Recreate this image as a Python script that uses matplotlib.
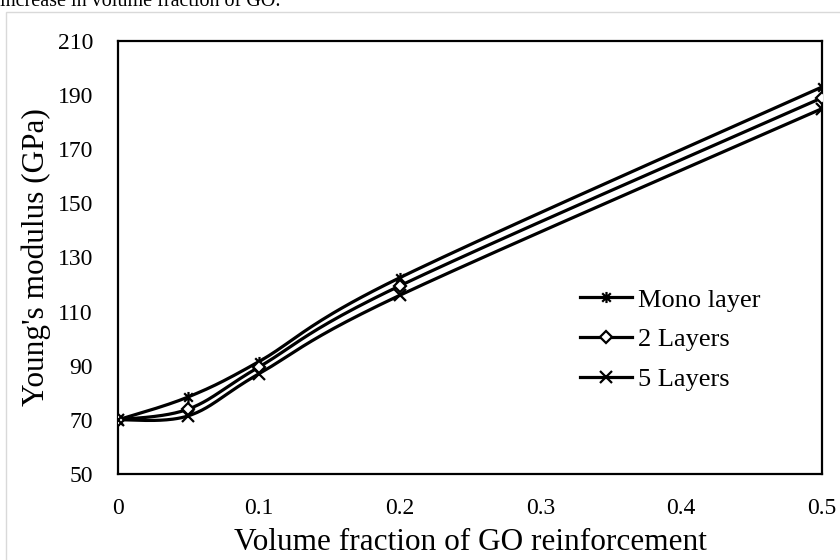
import numpy as np
import matplotlib
matplotlib.use("Agg")
import matplotlib.pyplot as plt
from matplotlib.path import Path
from matplotlib.patches import Rectangle

volume_fraction = [0, 0.05, 0.1, 0.2, 0.5]
mono_layer = [70, 78.5, 91.5, 122.5, 193]
two_layers = [70, 74, 89.5, 119.5, 189]
five_layers = [70, 71.5, 87, 116, 185]
series_names = ["Mono layer", "2 Layers", "5 Layers"]
x_ticks = [0, 0.1, 0.2, 0.3, 0.4, 0.5]
x_tick_labels = ["0", "0.1", "0.2", "0.3", "0.4", "0.5"]
y_ticks = [50, 70, 90, 110, 130, 150, 170, 190, 210]

plt.rcParams['font.family'] = ['Liberation Serif', 'DejaVu Serif']

fig = plt.figure(figsize=(8.4, 5.6), dpi=100)
ax = fig.add_axes([0.1405, 0.1536, 0.8381, 0.7732])

# Excel-like smoothed curve (Catmull-Rom Bezier in screen space)
def smooth(xs, ys, sx, sy, n=40):
    px = np.array(xs, float) * sx
    py = np.array(ys, float) * sy
    P = np.column_stack([px, py])
    out = [P[0]]
    for i in range(len(P) - 1):
        p0 = P[i - 1] if i > 0 else P[i]
        p1 = P[i]
        p2 = P[i + 1]
        p3 = P[i + 2] if i + 2 < len(P) else P[i + 1]
        c1 = p1 + (p2 - p0) / 6.0
        c2 = p2 - (p3 - p1) / 6.0
        t = np.linspace(0, 1, n)[1:, None]
        b = (1 - t) ** 3 * p1 + 3 * (1 - t) ** 2 * t * c1 + 3 * (1 - t) * t ** 2 * c2 + t ** 3 * p2
        out.extend(b)
    out = np.array(out)
    return out[:, 0] / sx, out[:, 1] / sy

sx = 704 / 0.5
sy = 433 / 160.0

star = Path([(-1, -1), (1, 1), (-1, 1), (1, -1), (0, -1.3), (0, 1.3)],
            [Path.MOVETO, Path.LINETO, Path.MOVETO, Path.LINETO, Path.MOVETO, Path.LINETO])

styles = [
    dict(marker=star, ms=8, mfc='none', mew=1.6),
    dict(marker='D', ms=6, mfc='white', mew=1.6),
    dict(marker='x', ms=8, mew=1.6),
]
data = [mono_layer, two_layers, five_layers]
lw = 2.3
for name, ys, st in zip(series_names, data, styles):
    cx, cy = smooth(volume_fraction, ys, sx, sy)
    ax.plot(cx, cy, color='black', lw=lw, zorder=3)
    ax.plot(volume_fraction, ys, ls='none', color='black', mec='black', zorder=4, **st)
    ax.plot([], [], color='black', lw=lw, label=name, mec='black', **st)

ax.set_xlim(0, 0.5)
ax.set_ylim(50, 210)
ax.set_xticks(x_ticks)
ax.set_xticklabels(x_tick_labels)
ax.set_yticks(y_ticks)
ax.tick_params(length=0, labelsize=17)
ax.tick_params(axis='y', pad=18)
ax.tick_params(axis='x', pad=17)
for s in ax.spines.values():
    s.set_linewidth(1.6)
ax.set_xlabel("Volume fraction of GO reinforcement", fontsize=22.5, labelpad=7)
ax.set_ylabel("Young's modulus (GPa)", fontsize=22.5, labelpad=5)

leg = ax.legend(loc='center left', bbox_to_anchor=(0.656, 0.31), frameon=False,
                fontsize=19, handlelength=1.97, handletextpad=0.23, labelspacing=0.62,
                borderpad=0, borderaxespad=0)

fig.patches.append(Rectangle((6 / 840, -0.1), 1.0, 1 - 12 / 560 + 0.1,
                             transform=fig.transFigure, fill=False,
                             edgecolor='#d9d9d9', lw=1, zorder=0))
fig.text(0.0, 1.0 - 6 / 560, "increase in volume fraction of GO.", fontsize=14.5,
         ha='left', va='baseline')

fig.savefig("out.png", dpi=100)
